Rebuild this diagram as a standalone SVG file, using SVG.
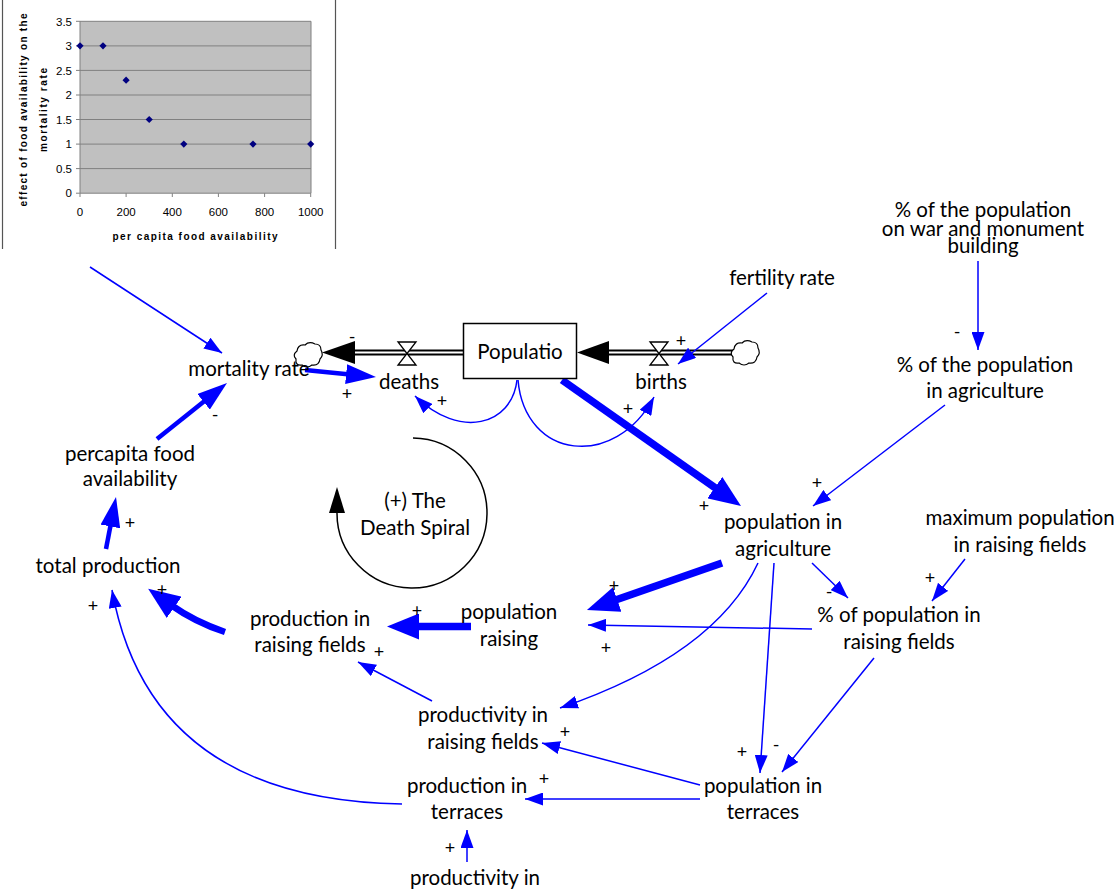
<svg xmlns="http://www.w3.org/2000/svg" width="1116" height="890" viewBox="0 0 1116 890">
<style>
.t{font-family:Lato,"Liberation Sans",sans-serif;font-size:20.5px;fill:#000;text-anchor:middle}
.s{font-family:Lato,"Liberation Sans",sans-serif;font-size:18px;fill:#000;text-anchor:middle}
.ax{font-family:"Liberation Sans",Arial,sans-serif;font-size:11.5px;fill:#000}
.axt{font-family:"Liberation Sans",Arial,sans-serif;font-size:10px;font-weight:bold;fill:#000;text-anchor:middle}
.thin{fill:none;stroke:#0000ff;stroke-width:1.5;marker-end:url(#ah)}
.thk{fill:none;stroke:#0000ff;stroke-width:4.5;marker-end:url(#ahb)}
.vthk{fill:none;stroke:#0000ff;stroke-width:7.5;marker-end:url(#ahv)}
.grid{stroke:#808080;stroke-width:1}
.cloud{fill:#fff;stroke:#000;stroke-width:1.2}
.valve{fill:#fff;stroke:#000;stroke-width:1.3}
</style>
<defs>
<marker id="ah" viewBox="0 0 18 13" refX="18" refY="6.5" markerWidth="18" markerHeight="13" markerUnits="userSpaceOnUse" orient="auto"><path d="M0,0 L18,6.5 L0,13 z" fill="#0000ff"/></marker>
<marker id="ahb" viewBox="0 0 30 20" refX="4" refY="10" markerWidth="30" markerHeight="20" markerUnits="userSpaceOnUse" orient="auto"><path d="M0,0 L30,10 L0,20 z" fill="#0000ff"/></marker>
<marker id="ahv" viewBox="0 0 32 26" refX="4" refY="13" markerWidth="32" markerHeight="26" markerUnits="userSpaceOnUse" orient="auto"><path d="M0,0 L32,13 L0,26 z" fill="#0000ff"/></marker>
<polygon id="dia" points="0,-3.6 3.6,0 0,3.6 -3.6,0" fill="#000080"/>
</defs>
<rect width="1116" height="890" fill="#fff"/>

<g id="chart">
<line x1="2.5" y1="0" x2="2.5" y2="249" stroke="#555" stroke-width="1.2"/>
<line x1="335.5" y1="0" x2="335.5" y2="249" stroke="#555" stroke-width="1.2"/>
<rect x="80" y="21.3" width="231" height="171.9" fill="#c0c0c0"/>
<g class="grid">
<line x1="80" y1="21.3" x2="311" y2="21.3"/>
<line x1="80" y1="45.9" x2="311" y2="45.9"/>
<line x1="80" y1="70.4" x2="311" y2="70.4"/>
<line x1="80" y1="95" x2="311" y2="95"/>
<line x1="80" y1="119.5" x2="311" y2="119.5"/>
<line x1="80" y1="144.1" x2="311" y2="144.1"/>
<line x1="80" y1="168.6" x2="311" y2="168.6"/>
<line x1="311" y1="21.3" x2="311" y2="193.2"/>
</g>
<g stroke="#808080" stroke-width="1">
<line x1="80" y1="21.3" x2="80" y2="193.2"/>
<line x1="76" y1="193.2" x2="311" y2="193.2"/>
<line x1="76" y1="21.3" x2="80" y2="21.3"/><line x1="76" y1="45.9" x2="80" y2="45.9"/><line x1="76" y1="70.4" x2="80" y2="70.4"/><line x1="76" y1="95" x2="80" y2="95"/><line x1="76" y1="119.5" x2="80" y2="119.5"/><line x1="76" y1="144.1" x2="80" y2="144.1"/><line x1="76" y1="168.6" x2="80" y2="168.6"/>
<line x1="80" y1="193.2" x2="80" y2="197"/><line x1="126.1" y1="193.2" x2="126.1" y2="197"/><line x1="172.3" y1="193.2" x2="172.3" y2="197"/><line x1="218.4" y1="193.2" x2="218.4" y2="197"/><line x1="264.6" y1="193.2" x2="264.6" y2="197"/><line x1="310.7" y1="193.2" x2="310.7" y2="197"/>
</g>
<g class="ax" text-anchor="end">
<text x="72" y="25.5">3.5</text><text x="72" y="50">3</text><text x="72" y="74.6">2.5</text><text x="72" y="99.2">2</text><text x="72" y="123.7">1.5</text><text x="72" y="148.3">1</text><text x="72" y="172.8">0.5</text><text x="72" y="197.4">0</text>
</g>
<g class="ax" text-anchor="middle">
<text x="80" y="216">0</text><text x="126.1" y="216">200</text><text x="172.3" y="216">400</text><text x="218.4" y="216">600</text><text x="264.6" y="216">800</text><text x="310.7" y="216">1000</text>
</g>
<text class="axt" x="195" y="240" textLength="165" lengthAdjust="spacing">per capita  food availability</text>
<text class="axt" transform="translate(27,110) rotate(-90)" textLength="193" lengthAdjust="spacing">effect of food availability on the</text>
<text class="axt" transform="translate(46.5,110) rotate(-90)" textLength="84" lengthAdjust="spacing">mortality rate</text>
<use href="#dia" x="80" y="45.8"/><use href="#dia" x="103" y="45.8"/><use href="#dia" x="126.1" y="80.2"/><use href="#dia" x="149.2" y="119.5"/><use href="#dia" x="183.8" y="144.1"/><use href="#dia" x="253" y="144.1"/><use href="#dia" x="310.7" y="144.1"/>
</g>

<g id="connectors">
<!-- flows -->
<line x1="463" y1="352.5" x2="354" y2="352.5" stroke="#000" stroke-width="6"/>
<line x1="463" y1="352.5" x2="354" y2="352.5" stroke="#fff" stroke-width="2.2"/>
<polygon points="322,352.5 355,341 355,364" fill="#000"/>
<line x1="734" y1="352.5" x2="607" y2="352.5" stroke="#000" stroke-width="6"/>
<line x1="734" y1="352.5" x2="607" y2="352.5" stroke="#fff" stroke-width="2.2"/>
<polygon points="577,352.5 609,341 609,364" fill="#000"/>
<!-- loop -->
<path d="M413,438 A75,75 0 1 1 337,512" fill="none" stroke="#000" stroke-width="1.5"/>
<polygon points="337,487 329,513 345,513" fill="#000"/>
<!-- causal links -->
<line class="thin" x1="90" y1="267" x2="222" y2="353"/>
<line class="thk" x1="157" y1="439" x2="206.7" y2="399.3"/>
<line class="thk" x1="305" y1="370" x2="350.1" y2="374.5"/>
<path class="thin" d="M517,380 C512,425 460,440 415,396"/>
<path class="thin" d="M518,380 C525,460 615,470 654,397"/>
<line class="vthk" x1="562" y1="380" x2="718.1" y2="489.9"/>
<line class="thin" x1="767" y1="293" x2="678" y2="364"/>
<line class="thin" x1="978" y1="261" x2="978" y2="350"/>
<line class="thin" x1="945" y1="405" x2="813" y2="506"/>
<line class="vthk" x1="722" y1="563" x2="613.4" y2="600.8"/>
<line class="thin" x1="812" y1="629" x2="588" y2="625"/>
<line class="thin" x1="812" y1="563" x2="848" y2="598"/>
<line class="thin" x1="965" y1="559" x2="932" y2="601"/>
<path class="thin" d="M758,563 Q715,655 560,708"/>
<line class="thin" x1="774" y1="563" x2="760" y2="773"/>
<line class="thin" x1="874" y1="658" x2="782" y2="772"/>
<line class="thin" x1="700" y1="785" x2="542" y2="743"/>
<line class="thin" x1="700" y1="799" x2="525" y2="799"/>
<line class="thin" x1="432" y1="701" x2="358" y2="662"/>
<path class="thin" d="M402,804 Q150,800 112,590"/>
<path class="vthk" style="stroke-width:6.5" d="M225,632 Q195,622 171,605"/>
<line class="vthk" x1="471" y1="626.5" x2="415" y2="626.5"/>
<line class="thk" x1="106" y1="549" x2="111.1" y2="522.5"/>
<line class="thin" x1="467" y1="862" x2="467" y2="830"/>
<!-- polarity labels -->
<g class="s">
<text x="352" y="343">-</text>
<text x="215" y="421">-</text>
<text x="347" y="400">+</text>
<text x="442" y="407">+</text>
<text x="628" y="415">+</text>
<text x="681" y="347">+</text>
<text x="704" y="512">+</text>
<text x="957" y="338">-</text>
<text x="817" y="489">+</text>
<text x="614" y="592">+</text>
<text x="606" y="654">+</text>
<text x="829" y="598">-</text>
<text x="930" y="584">+</text>
<text x="565" y="738">+</text>
<text x="742" y="758">+</text>
<text x="776" y="751">-</text>
<text x="544" y="785">+</text>
<text x="379" y="658">+</text>
<text x="93" y="612">+</text>
<text x="162" y="596">+</text>
<text x="417" y="617">+</text>
<text x="130" y="529">+</text>
<text x="450" y="854">+</text>
</g>
</g>

<g id="cloud-deaths"><path class="cloud" d="M297,351 q1,-7 8,-6 q4,-4 10,-1 q6,0 6,6 q3,5 -1,9 q-1,7 -8,6 q-5,4 -10,0 q-7,1 -6,-6 q-4,-4 1,-8z"/></g>
<g id="cloud-births"><path class="cloud" d="M734,349 q1,-7 8,-6 q4,-4 10,-1 q6,0 6,6 q3,5 -1,9 q-1,7 -8,6 q-5,4 -10,0 q-7,1 -6,-6 q-4,-4 1,-8z"/></g>
<g id="valve-deaths"><path class="valve" d="M398,342 L416,342 L407,353.5 L416,365 L398,365 L407,353.5 z"/></g>
<g id="valve-births"><path class="valve" d="M650,342 L668,342 L659,353.5 L668,365 L650,365 L659,353.5 z"/></g>

<g id="population"><rect x="463.5" y="323.5" width="113" height="55" fill="#fff" stroke="#000" stroke-width="1.5"/><text class="t" x="520" y="359">Populatio</text></g>
<g id="mortality-rate"><text class="t" x="249" y="376">mortality rate</text></g>
<g id="deaths"><text class="t" x="409" y="389">deaths</text></g>
<g id="births"><text class="t" x="661" y="389">births</text></g>
<g id="fertility-rate"><text class="t" x="782" y="285">fertility rate</text></g>
<g id="pct-war"><text class="t" x="983" y="217">% of the population</text><text class="t" x="983" y="235.5">on war and monument</text><text class="t" x="983" y="253">building</text></g>
<g id="pct-agri"><text class="t" x="985" y="372">% of the population</text><text class="t" x="985" y="398">in agriculture</text></g>
<g id="pop-agri"><text class="t" x="783" y="529">population in</text><text class="t" x="783" y="556">agriculture</text></g>
<g id="max-pop"><text class="t" x="1020" y="525">maximum population</text><text class="t" x="1020" y="552">in raising fields</text></g>
<g id="pct-raising"><text class="t" x="899" y="622">% of population in</text><text class="t" x="899" y="649">raising fields</text></g>
<g id="pop-raising"><text class="t" x="509" y="619">population</text><text class="t" x="509" y="646">raising</text></g>
<g id="prod-raising"><text class="t" x="310" y="626">production in</text><text class="t" x="310" y="652">raising fields</text></g>
<g id="total-production"><text class="t" x="108" y="573">total production</text></g>
<g id="percapita"><text class="t" x="130" y="461">percapita food</text><text class="t" x="130" y="486">availability</text></g>
<g id="productivity-raising"><text class="t" x="483" y="722">productivity in</text><text class="t" x="483" y="749">raising fields</text></g>
<g id="prod-terraces"><text class="t" x="467" y="793">production in</text><text class="t" x="467" y="819">terraces</text></g>
<g id="pop-terraces"><text class="t" x="763" y="793">population in</text><text class="t" x="763" y="819">terraces</text></g>
<g id="productivity-terraces"><text class="t" x="475" y="885">productivity in</text></g>
<g id="loop"><text class="t" x="415" y="508">(+) The</text><text class="t" x="415" y="535">Death Spiral</text></g>
</svg>
